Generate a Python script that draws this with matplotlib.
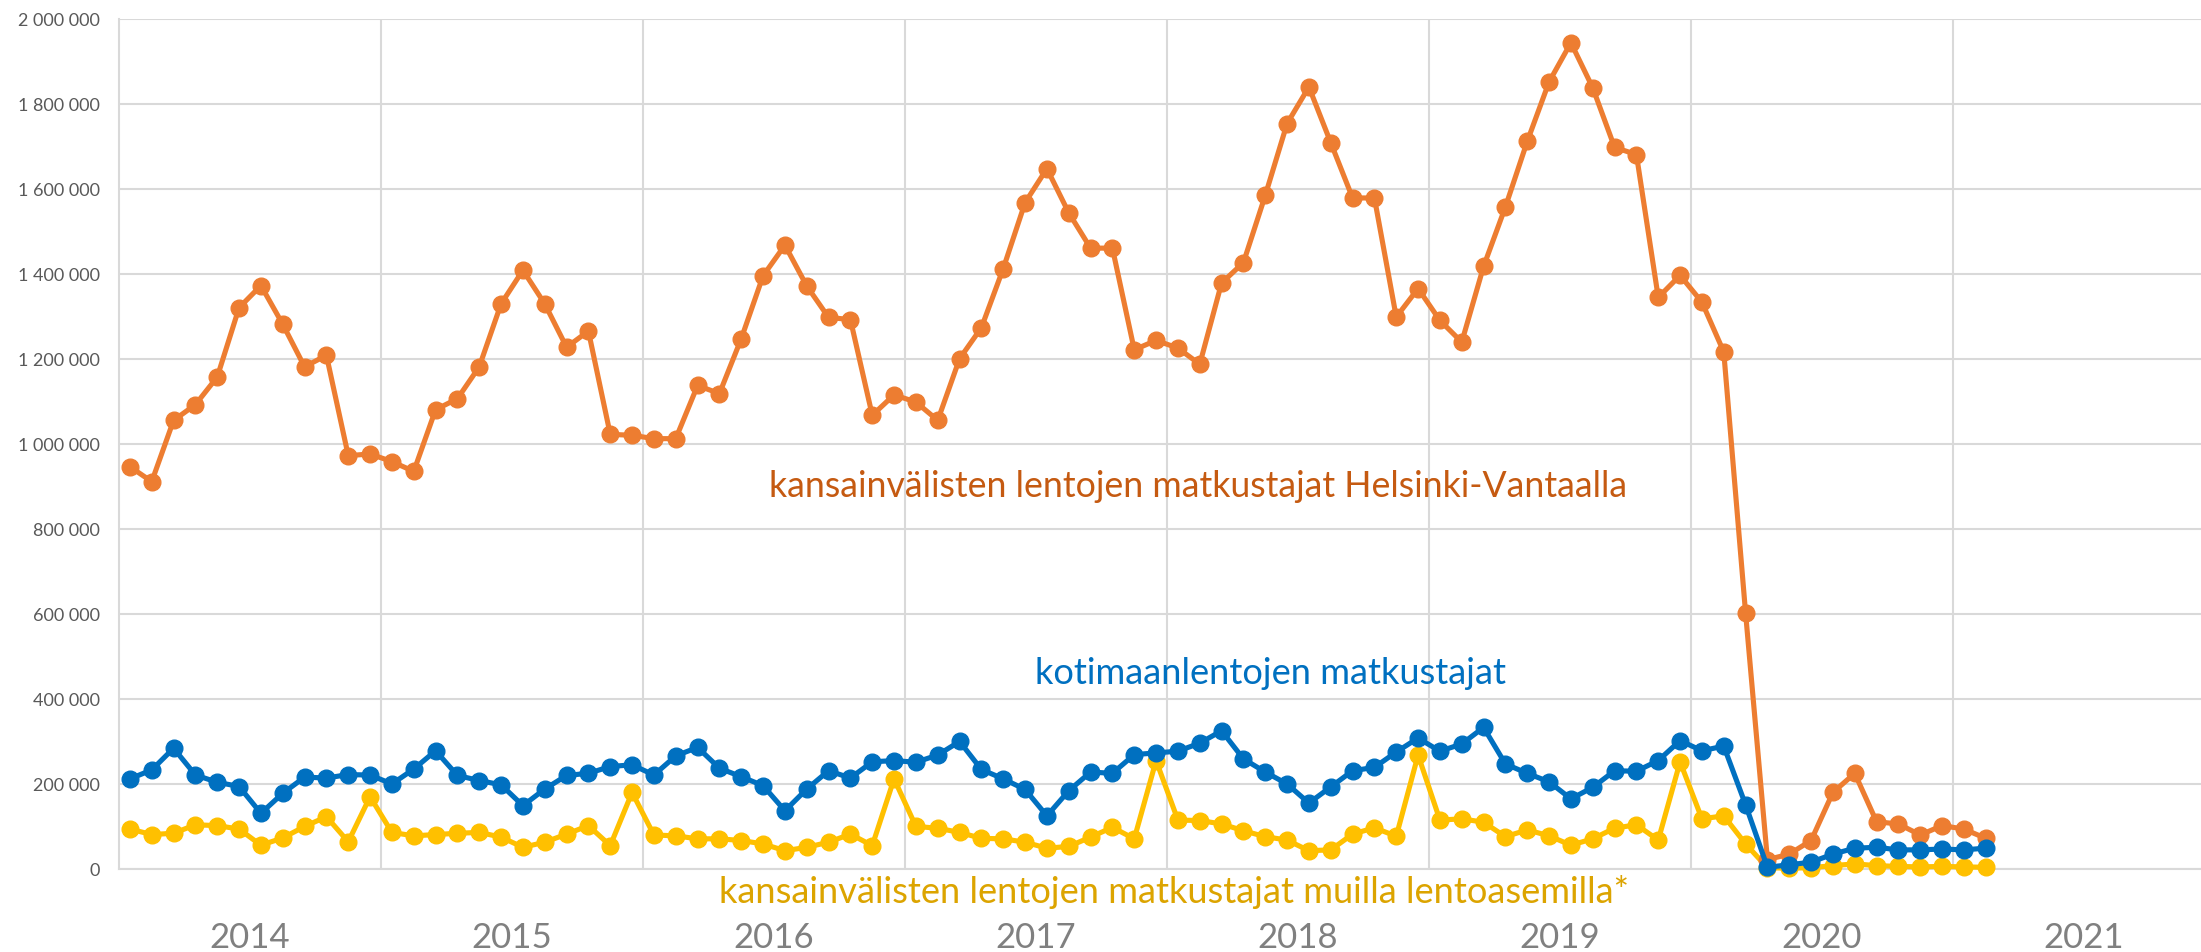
import matplotlib
matplotlib.use("Agg")
import matplotlib.pyplot as plt
import numpy as np

# ---- data (thousands of passengers), monthly Jan 2014 .. Feb 2021 ----
helsinki_intl = [946, 911, 1055, 1092, 1157, 1320, 1372, 1281, 1181, 1208, 972, 976,
                 958, 935, 1080, 1106, 1181, 1329, 1408, 1329, 1227, 1265, 1022, 1020,
                 1012, 1012, 1137, 1118, 1247, 1395, 1467, 1371, 1297, 1292, 1067, 1115,
                 1098, 1055, 1200, 1273, 1412, 1567, 1647, 1543, 1460, 1460, 1221, 1243,
                 1225, 1187, 1378, 1426, 1584, 1753, 1839, 1708, 1578, 1578, 1298, 1365,
                 1290, 1239, 1417, 1557, 1711, 1851, 1943, 1837, 1697, 1680, 1344, 1396,
                 1333, 1216, 602, 22, 35, 67, 180, 225, 111, 106, 80, 102, 94, 72]
domestic = [212, 233, 284, 221, 204, 194, 131, 178, 216, 214, 222, 221,
            200, 235, 278, 220, 208, 198, 149, 188, 220, 225, 241, 245,
            221, 266, 286, 237, 217, 196, 137, 188, 231, 214, 252, 255,
            251, 268, 300, 234, 212, 187, 125, 184, 228, 225, 269, 273,
            277, 296, 325, 259, 228, 200, 155, 193, 231, 239, 275, 308,
            277, 294, 333, 247, 225, 205, 165, 192, 231, 230, 255, 302,
            278, 289, 151, 4, 10, 16, 35, 49, 51, 45, 45, 47, 45, 49]
other_intl = [94, 81, 84, 104, 102, 94, 56, 73, 100, 123, 64, 170,
              86, 78, 81, 84, 86, 75, 51, 63, 82, 102, 55, 180,
              80, 78, 71, 71, 67, 59, 43, 51, 63, 82, 55, 212,
              100, 96, 86, 72, 71, 63, 49, 53, 75, 98, 71, 255,
              115, 114, 106, 90, 76, 68, 43, 45, 82, 97, 77, 268,
              115, 118, 110, 76, 92, 78, 56, 71, 96, 104, 68, 252,
              118, 125, 59, 3, 2, 3, 8, 12, 8, 6, 5, 6, 5, 4]
years = ["2014", "2015", "2016", "2017", "2018", "2019", "2020", "2021"]
y_ticks = [0, 200000, 400000, 600000, 800000, 1000000, 1200000, 1400000, 1600000, 1800000, 2000000]

label_helsinki = "kansainvälisten lentojen matkustajat Helsinki-Vantaalla"
label_domestic = "kotimaanlentojen matkustajat"
label_other = "kansainvälisten lentojen matkustajat muilla lentoasemilla*"

plt.rcParams['font.family'] = ['Lato', 'DejaVu Sans']

W, H = 2201, 953
fig = plt.figure(figsize=(W / 100, H / 100), dpi=100)
left, right, top, bottom = 119, 2215, 19.5, 870
ax = fig.add_axes([left / W, 1 - bottom / H, (right - left) / W, (bottom - top) / H])

x = np.arange(len(helsinki_intl))
c_or, c_bl, c_ye = "#ED7D31", "#0070C0", "#FFC000"
kw = dict(lw=3.7, marker="o", ms=12, solid_joinstyle="round", clip_on=False)
ax.plot(x, np.array(other_intl) * 1000, color=c_ye, zorder=3, **kw)
ax.plot(x, np.array(helsinki_intl) * 1000, color=c_or, zorder=4, **kw)
ax.plot(x, np.array(domestic) * 1000, color=c_bl, zorder=5, **kw)

ax.set_xlim(-0.5, 95.5)
ax.set_ylim(0, 2000000)

grid_c = "#D9D9D9"
ax.set_yticks(y_ticks)
ax.set_yticklabels([f"{v:,}".replace(",", " ") for v in y_ticks])
ax.set_xticks(np.arange(11.5, 95, 12))
ax.set_xticklabels([])
ax.set_xticks(np.arange(5.5, 96, 12), minor=True)
ax.set_xticklabels(years, minor=True)
ax.grid(True, which="major", color=grid_c, lw=1.5, zorder=0)
ax.tick_params(axis="y", length=0, pad=14, labelsize=13, labelcolor="#595959")
ax.tick_params(axis="x", which="major", length=0)
ax.tick_params(axis="x", which="minor", length=0, pad=37.5, labelsize=25, labelcolor="#808080")
for s in ["top", "right"]:
    ax.spines[s].set_visible(False)
for s in ["left", "bottom"]:
    ax.spines[s].set_color(grid_c)
    ax.spines[s].set_linewidth(1.5)

# series labels: (text, colour, x-left, baseline y, target width in px)
labels = [
    (label_helsinki, "#C55A11", 29.27, 878000, 858),
    (label_domestic, "#0070C0", 41.45, 437000, 472),
    (label_other, "#DCA400", 26.98, -77600, 913),
]
texts = []
for txt, col, xl, yb, wpx in labels:
    t = ax.text(xl, yb, txt, color=col, fontsize=24, va="baseline", ha="left", clip_on=False)
    texts.append((t, wpx))
fig.canvas.draw()
r = fig.canvas.get_renderer()
for t, wpx in texts:
    w = t.get_window_extent(r).width
    t.set_fontsize(24 * wpx / w)

fig.savefig("out.png", dpi=100)
